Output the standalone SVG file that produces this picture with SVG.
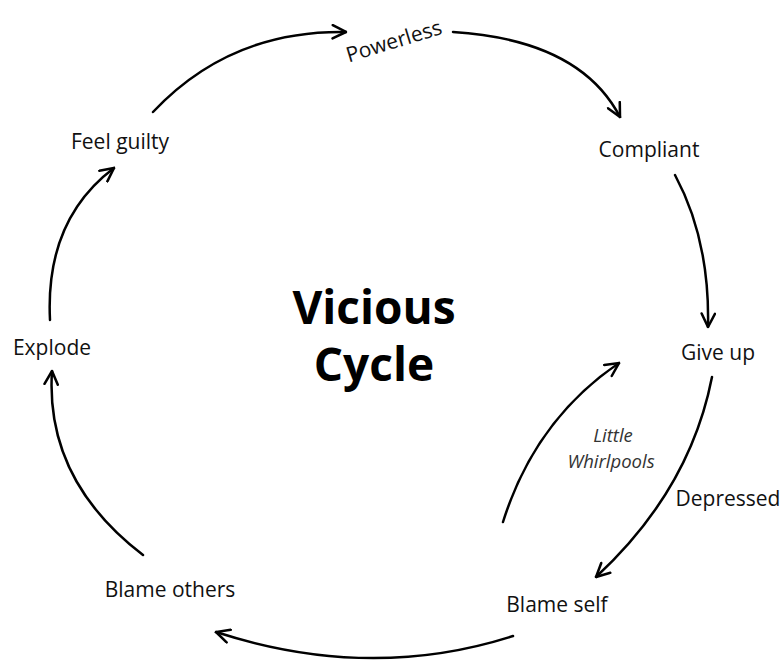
<svg xmlns="http://www.w3.org/2000/svg" width="784" height="662" viewBox="0 0 784 662">
  <defs>
    <marker id="arr" viewBox="0 0 12 12" refX="11" refY="6" markerWidth="16" markerHeight="16" markerUnits="userSpaceOnUse" orient="auto">
      <path d="M1,1 L11,6 L1,11" fill="none" stroke="#000" stroke-width="1.9" stroke-linejoin="miter" stroke-linecap="round"/>
    </marker>
  </defs>
  <style>
    .lbl { font-family: "Open Sans", "Noto Sans", "Liberation Sans", sans-serif; font-size: 21px; fill: #111; text-anchor: middle; }
    .it { font-style: italic; font-size: 18.5px; fill: #333; }
    .title { font-family: "Open Sans", "Noto Sans", "Liberation Sans", sans-serif; font-size: 46px; font-weight: bold; fill: #000; text-anchor: middle; }
    .c { fill: none; stroke: #000; stroke-width: 2.5; stroke-linecap: round; marker-end: url(#arr); }
  </style>
  <rect width="784" height="662" fill="#fff"/>
  <g id="connectors">
    <path class="c" d="M153,112 Q230,30 346,32"/>
    <path class="c" d="M453,32 Q580,40 620,117"/>
    <path class="c" d="M675,175 Q710,240 708,327"/>
    <path class="c" d="M712,377 Q690,490 596,577"/>
    <path class="c" d="M503,522 Q535,420 619,363"/>
    <path class="c" d="M513,636 Q370,682 216,632"/>
    <path class="c" d="M143,555 Q45,480 52,371"/>
    <path class="c" d="M50,320 Q45,220 114,168"/>
  </g>
  <g id="title">
    <text class="title" x="374" y="324">Vicious</text>
    <text class="title" x="374" y="381">Cycle</text>
  </g>
  <g id="powerless"><text class="lbl" transform="translate(396,48) rotate(-17)">Powerless</text></g>
  <g id="compliant"><text class="lbl" x="649" y="157">Compliant</text></g>
  <g id="give-up"><text class="lbl" x="718" y="360">Give up</text></g>
  <g id="depressed"><text class="lbl" x="728" y="506">Depressed</text></g>
  <g id="blame-self"><text class="lbl" x="557" y="612">Blame self</text></g>
  <g id="blame-others"><text class="lbl" x="170" y="597">Blame others</text></g>
  <g id="explode"><text class="lbl" x="52" y="355">Explode</text></g>
  <g id="feel-guilty"><text class="lbl" x="120" y="149">Feel guilty</text></g>
  <g id="little-whirlpools">
    <text class="lbl it" x="613" y="442">Little</text>
    <text class="lbl it" x="611" y="468">Whirlpools</text>
  </g>
</svg>
